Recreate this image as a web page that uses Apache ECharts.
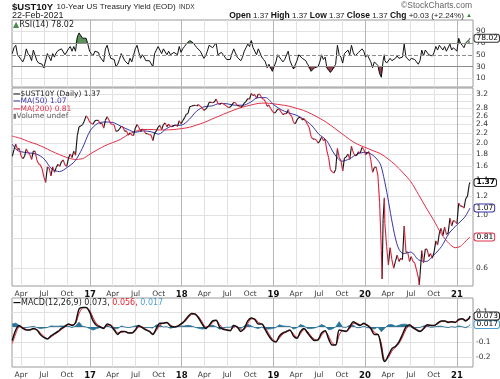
<!DOCTYPE html>
<html><head><meta charset="utf-8">
<script src="https://cdn.jsdelivr.net/npm/echarts@6/dist/echarts.min.js"></script>
<style>html,body{margin:0;padding:0;background:#fff}#c{width:500px;height:379px}</style>
</head><body><div id="c"></div>
<script>
// ---------- DATA ----------
const weekDates = [
'2016-02-26','2016-03-04','2016-03-11','2016-03-18','2016-03-25','2016-04-01','2016-04-08','2016-04-15','2016-04-22','2016-04-29',
'2016-05-06','2016-05-13','2016-05-20','2016-05-27','2016-06-03','2016-06-10','2016-06-17','2016-06-24','2016-07-01','2016-07-08',
'2016-07-15','2016-07-22','2016-07-29','2016-08-05','2016-08-12','2016-08-19','2016-08-26','2016-09-02','2016-09-09','2016-09-16',
'2016-09-23','2016-09-30','2016-10-07','2016-10-14','2016-10-21','2016-10-28','2016-11-04','2016-11-11','2016-11-18','2016-11-25',
'2016-12-02','2016-12-09','2016-12-16','2016-12-23','2016-12-30',
'2017-01-06','2017-01-13','2017-01-20','2017-01-27','2017-02-03','2017-02-10','2017-02-17','2017-02-24','2017-03-03','2017-03-10',
'2017-03-17','2017-03-24','2017-03-31','2017-04-07','2017-04-14','2017-04-21','2017-04-28','2017-05-05','2017-05-12','2017-05-19',
'2017-05-26','2017-06-02','2017-06-09','2017-06-16','2017-06-23','2017-06-30','2017-07-07','2017-07-14','2017-07-21','2017-07-28',
'2017-08-04','2017-08-11','2017-08-18','2017-08-25','2017-09-01','2017-09-08','2017-09-15','2017-09-22','2017-09-29','2017-10-06',
'2017-10-13','2017-10-20','2017-10-27','2017-11-03','2017-11-10','2017-11-17','2017-11-24','2017-12-01','2017-12-08','2017-12-15',
'2017-12-22','2017-12-29',
'2018-01-05','2018-01-12','2018-01-19','2018-01-26','2018-02-02','2018-02-09','2018-02-16','2018-02-23','2018-03-02','2018-03-09',
'2018-03-16','2018-03-23','2018-03-30','2018-04-06','2018-04-13','2018-04-20','2018-04-27','2018-05-04','2018-05-11','2018-05-18',
'2018-05-25','2018-06-01','2018-06-08','2018-06-15','2018-06-22','2018-06-29','2018-07-06','2018-07-13','2018-07-20','2018-07-27',
'2018-08-03','2018-08-10','2018-08-17','2018-08-24','2018-08-31','2018-09-07','2018-09-14','2018-09-21','2018-09-28','2018-10-05',
'2018-10-12','2018-10-19','2018-10-26','2018-11-02','2018-11-09','2018-11-16','2018-11-23','2018-11-30','2018-12-07','2018-12-14',
'2018-12-21','2018-12-28',
'2019-01-04','2019-01-11','2019-01-18','2019-01-25','2019-02-01','2019-02-08','2019-02-15','2019-02-22','2019-03-01','2019-03-08',
'2019-03-15','2019-03-22','2019-03-29','2019-04-05','2019-04-12','2019-04-19','2019-04-26','2019-05-03','2019-05-10','2019-05-17',
'2019-05-24','2019-05-31','2019-06-07','2019-06-14','2019-06-21','2019-06-28','2019-07-05','2019-07-12','2019-07-19','2019-07-26',
'2019-08-02','2019-08-09','2019-08-16','2019-08-23','2019-08-30','2019-09-06','2019-09-13','2019-09-20','2019-09-27','2019-10-04',
'2019-10-11','2019-10-18','2019-10-25','2019-11-01','2019-11-08','2019-11-15','2019-11-22','2019-11-29','2019-12-06','2019-12-13',
'2019-12-20','2019-12-27',
'2020-01-03','2020-01-10','2020-01-17','2020-01-24','2020-01-31','2020-02-07','2020-02-14','2020-02-21','2020-02-28','2020-03-06',
'2020-03-09','2020-03-13','2020-03-18','2020-03-20','2020-03-27','2020-04-03','2020-04-10','2020-04-17','2020-04-24','2020-05-01',
'2020-05-08','2020-05-15','2020-05-22','2020-05-29','2020-06-05','2020-06-12','2020-06-19','2020-06-26','2020-07-03','2020-07-10',
'2020-07-17','2020-07-24','2020-07-31','2020-08-04','2020-08-07','2020-08-14','2020-08-21','2020-08-28','2020-09-04','2020-09-11',
'2020-09-18','2020-09-25','2020-10-02','2020-10-09','2020-10-16','2020-10-23','2020-10-30','2020-11-06','2020-11-13','2020-11-20',
'2020-11-27','2020-12-04','2020-12-11','2020-12-18','2020-12-25',
'2021-01-01','2021-01-08','2021-01-15','2021-01-22','2021-01-29','2021-02-05','2021-02-12','2021-02-19','2021-02-22'
];
const closeValues = [
1.76,1.88,1.98,1.88,1.90,1.77,1.72,1.76,1.89,1.83, 1.79,1.71,1.85,1.85,1.70,1.64,1.62,1.56,1.44,1.37,
1.59,1.57,1.46,1.59,1.51,1.58,1.63,1.60,1.67,1.70, 1.62,1.60,1.73,1.80,1.74,1.85,1.78,2.15,2.34,2.36,
2.39,2.47,2.60,2.55,2.45,
2.42,2.40,2.48,2.49,2.49,2.41,2.42,2.31,2.49,2.58, 2.50,2.41,2.40,2.38,2.24,2.25,2.29,2.35,2.33,2.24,
2.25,2.16,2.21,2.16,2.15,2.31,2.39,2.33,2.24,2.29, 2.26,2.19,2.19,2.17,2.16,2.05,2.20,2.25,2.33,2.37,
2.28,2.39,2.43,2.34,2.40,2.35,2.34,2.37,2.38,2.35, 2.48,2.41,
2.48,2.55,2.64,2.66,2.84,2.85,2.87,2.88,2.86,2.90, 2.85,2.82,2.74,2.77,2.83,2.96,2.96,2.95,2.97,3.06,
2.93,2.90,2.94,2.92,2.89,2.85,2.82,2.83,2.89,2.96, 2.95,2.87,2.87,2.82,2.86,2.94,2.99,3.07,3.05,3.23,
3.16,3.19,3.08,3.21,3.19,3.08,3.05,2.99,2.85,2.89, 2.79,2.72,
2.67,2.70,2.78,2.76,2.70,2.63,2.66,2.65,2.76,2.63, 2.59,2.44,2.41,2.50,2.56,2.56,2.50,2.53,2.47,2.39,
2.32,2.13,2.08,2.08,2.06,2.00,2.04,2.12,2.05,2.07, 1.86,1.74,1.55,1.52,1.50,1.55,1.90,1.74,1.69,1.53,
1.73,1.75,1.80,1.71,1.94,1.83,1.77,1.78,1.84,1.82, 1.92,1.88,
1.79,1.82,1.84,1.70,1.51,1.58,1.59,1.47,1.13,0.71, 0.54,0.96,1.18,0.92,0.74,0.62,0.73,0.65,0.60,0.64,
0.68,0.64,0.66,0.65,0.90,0.70,0.70,0.64,0.67,0.64, 0.63,0.59,0.55,0.51,0.56,0.71,0.63,0.72,0.72,0.67,
0.69,0.66,0.70,0.78,0.75,0.84,0.88,0.82,0.89,0.83, 0.84,0.97,0.90,0.95,0.94,
0.92,1.12,1.09,1.09,1.07,1.17,1.20,1.34,1.37
];
const rsiValues = [
52,62,66,50,52,42,38,45,60,52, 48,40,58,56,40,36,36,34,28,26, 52,50,40,52,46,53,57,54,60,60,
50,48,60,64,56,64,56,80,87,84, 78,76,78,68,56,
52,48,56,56,54,46,48,38,60,66, 54,44,44,42,30,34,42,52,50,40, 42,34,44,38,38,60,66,54,44,50,
46,40,42,40,40,30,52,58,64,64, 52,60,62,50,56,50,50,54,54,50, 64,54,
60,64,68,68,74,72,70,66,62,62, 56,54,44,48,56,66,64,62,64,70, 50,48,54,50,46,42,40,42,52,60,
58,46,46,40,46,56,62,68,64,74, 62,62,50,60,58,46,42,38,28,34, 28,22,
30,38,50,48,42,38,42,42,56,40, 38,26,26,40,50,50,44,46,40,34, 30,22,24,28,30,30,38,50,42,46,
28,24,20,24,26,34,66,50,46,36, 52,54,58,50,66,54,48,50,54,52, 60,56,
46,50,52,38,28,38,40,32,18,12, 9,40,50,40,36,34,44,40,38,44, 48,44,46,46,68,46,46,40,44,42,
42,38,34,32,40,58,48,58,56,50, 52,48,54,64,58,66,68,58,64,56, 56,68,58,62,60,
56,78,70,66,62,70,70,76,78.02
];
const ma50Dates = [
'2016-02-26','2016-03-15','2016-04-01','2016-05-01','2016-06-01','2016-07-01','2016-08-01','2016-09-01','2016-10-01','2016-11-01',
'2016-12-01','2017-01-01','2017-02-01','2017-03-01','2017-04-01','2017-05-01','2017-06-01','2017-07-01','2017-08-01','2017-09-01',
'2017-10-01','2017-11-01','2017-12-01','2018-01-01','2018-02-01','2018-03-01','2018-04-01','2018-05-01','2018-06-01','2018-07-01',
'2018-08-01','2018-09-01','2018-10-01','2018-11-01','2018-12-01','2019-01-01','2019-02-01','2019-03-01','2019-04-01','2019-05-01',
'2019-06-01','2019-07-01','2019-08-01','2019-09-01','2019-10-01','2019-11-01','2019-12-01','2020-01-01','2020-02-01','2020-03-01',
'2020-03-15','2020-04-01','2020-04-15','2020-05-01','2020-05-15','2020-06-01','2020-07-01','2020-08-01','2020-09-01','2020-10-01',
'2020-11-01','2020-12-01','2021-01-01','2021-02-01','2021-02-22'
];
const ma50Values = [
1.98,1.87,1.84,1.82,1.80,1.72,1.56,1.52,1.58,1.68,
1.90,2.25,2.42,2.45,2.44,2.36,2.28,2.22,2.25,2.23,
2.18,2.30,2.37,2.38,2.52,2.72,2.84,2.86,2.93,2.92,
2.88,2.88,2.96,3.10,3.10,2.90,2.76,2.68,2.62,2.52,
2.38,2.18,2.05,1.80,1.68,1.72,1.80,1.83,1.78,1.64,
1.45,1.18,0.97,0.80,0.72,0.69,0.70,0.65,0.64,0.68,
0.74,0.84,0.91,0.98,1.07
];
const ma200Dates = [
'2016-02-26','2016-04-01','2016-05-01','2016-06-01','2016-07-01','2016-08-01','2016-09-01','2016-10-01','2016-11-01','2016-12-01',
'2017-01-01','2017-02-01','2017-03-01','2017-04-01','2017-05-01','2017-06-01','2017-07-01','2017-08-01','2017-09-01','2017-10-01',
'2017-11-01','2017-12-01','2018-01-01','2018-02-01','2018-03-01','2018-04-01','2018-05-01','2018-06-01','2018-07-01','2018-08-01',
'2018-09-01','2018-10-01','2018-11-01','2018-12-01','2019-01-01','2019-02-01','2019-03-01','2019-04-01','2019-05-01','2019-06-01',
'2019-07-01','2019-08-01','2019-09-01','2019-10-01','2019-11-01','2019-12-01','2020-01-01','2020-02-01','2020-03-01','2020-04-01',
'2020-05-01','2020-06-01','2020-07-01','2020-08-01','2020-09-01','2020-10-01','2020-11-01','2020-12-01','2020-12-25','2021-01-15',
'2021-02-01','2021-02-22'
];
const ma200Values = [
2.14,2.09,2.03,1.98,1.92,1.85,1.79,1.74,1.71,1.72,
1.80,1.88,1.95,2.01,2.07,2.17,2.24,2.28,2.28,2.27,
2.27,2.28,2.30,2.33,2.38,2.44,2.52,2.60,2.68,2.76,
2.83,2.88,2.93,2.94,2.92,2.89,2.86,2.80,2.74,2.65,
2.55,2.44,2.31,2.19,2.07,1.98,1.92,1.86,1.81,1.72,
1.62,1.50,1.38,1.22,1.07,0.95,0.83,0.76,0.73,0.74,
0.77,0.81
];
const macdDates = [
'2016-02-26','2016-03-11','2016-03-25','2016-04-08','2016-04-22','2016-05-06','2016-05-20','2016-06-03','2016-06-17','2016-07-01',
'2016-07-15','2016-07-29','2016-08-12','2016-08-26','2016-09-09','2016-09-23','2016-10-07','2016-10-21','2016-11-04','2016-11-18',
'2016-12-02','2016-12-16','2016-12-30','2017-01-13','2017-01-27','2017-02-10','2017-02-24','2017-03-10','2017-03-24','2017-04-07',
'2017-04-21','2017-05-05','2017-05-19','2017-06-02','2017-06-16','2017-06-30','2017-07-14','2017-07-28','2017-08-11','2017-08-25',
'2017-09-08','2017-09-22','2017-10-06','2017-10-20','2017-11-03','2017-11-17','2017-12-01','2017-12-15','2017-12-29','2018-01-12',
'2018-01-26','2018-02-09','2018-02-23','2018-03-09','2018-03-23','2018-04-06','2018-04-20','2018-05-04','2018-05-18','2018-06-01',
'2018-06-15','2018-06-29','2018-07-13','2018-07-27','2018-08-10','2018-08-24','2018-09-07','2018-09-21','2018-10-05','2018-10-19',
'2018-11-02','2018-11-16','2018-11-30','2018-12-14','2018-12-28','2019-01-11','2019-01-25','2019-02-08','2019-02-22','2019-03-08',
'2019-03-22','2019-04-05','2019-04-19','2019-05-03','2019-05-17','2019-05-31','2019-06-14','2019-06-28','2019-07-12','2019-07-26',
'2019-08-09','2019-08-23','2019-09-06','2019-09-20','2019-10-04','2019-10-18','2019-11-01','2019-11-15','2019-11-29','2019-12-13',
'2019-12-27','2020-01-10','2020-01-24','2020-02-07','2020-02-21','2020-03-06','2020-03-13','2020-03-20','2020-04-03','2020-04-17',
'2020-05-01','2020-05-15','2020-05-29','2020-06-12','2020-06-26','2020-07-10','2020-07-24','2020-08-07','2020-08-21','2020-09-04',
'2020-09-18','2020-10-02','2020-10-16','2020-10-30','2020-11-13','2020-11-27','2020-12-11','2020-12-25','2021-01-08','2021-01-22',
'2021-02-05','2021-02-19','2021-02-22'
];
const macdValues = [
-0.09,-0.02,0.01,-0.01,-0.02,-0.02,-0.01,-0.02,-0.05,-0.07,
-0.08,-0.06,-0.045,-0.03,-0.01,0.005,0.02,0.01,0.03,0.12,
0.13,0.13,0.10,0.04,0.01,0.0,-0.01,0.02,0.01,-0.02,
-0.05,-0.03,-0.03,-0.04,-0.04,-0.02,0.01,-0.005,-0.02,-0.03,
-0.05,-0.01,0.025,0.025,0.03,0.005,0.0,0.005,0.02,0.04,
0.07,0.09,0.085,0.06,0.02,-0.01,0.01,0.04,0.045,0.0,
-0.015,-0.02,-0.025,0.01,0.0,-0.03,-0.01,0.04,0.06,0.05,
0.02,0.02,-0.02,-0.06,-0.09,-0.10,-0.06,-0.04,-0.03,-0.02,
-0.06,-0.075,-0.03,-0.01,-0.04,-0.07,-0.09,-0.085,-0.04,-0.025,
-0.08,-0.12,-0.12,-0.02,-0.025,-0.03,0.0,0.035,0.02,0.01,
0.025,0.01,-0.01,-0.05,-0.05,-0.14,-0.21,-0.23,-0.19,-0.145,
-0.13,-0.10,-0.05,0.0,0.015,-0.005,-0.02,-0.03,-0.01,0.015,
0.01,0.01,0.025,0.04,0.04,0.03,0.035,0.03,0.05,0.055,
0.04,0.06,0.073
];
const signalValues = [
-0.11,-0.045,0.0,-0.003,-0.017,-0.02,-0.014,-0.017,-0.040,-0.063,
-0.077,-0.067,-0.050,-0.035,-0.017,0.0,0.015,0.014,0.023,0.089,
0.127,0.13,0.111,0.061,0.021,0.004,-0.007,0.010,0.014,-0.010,
-0.040,-0.037,-0.03,-0.037,-0.04,-0.027,0.0,0.0,-0.015,-0.027,
-0.043,-0.024,0.013,0.025,0.028,0.014,0.002,0.003,0.015,0.033,
0.060,0.083,0.087,0.069,0.034,0.001,0.003,0.030,0.043,0.016,
-0.010,-0.018,-0.023,-0.002,0.004,-0.020,-0.017,0.023,0.053,0.054,
0.031,0.02,-0.006,-0.046,-0.080,-0.097,-0.074,-0.047,-0.034,-0.024,
-0.046,-0.070,-0.046,-0.017,-0.030,-0.060,-0.083,-0.087,-0.056,-0.030,
-0.061,-0.106,-0.12,-0.055,-0.023,-0.028,-0.011,0.023,0.025,0.014,
0.020,0.015,-0.003,-0.036,-0.05,-0.109,-0.186,-0.223,-0.204,-0.161,
-0.135,-0.111,-0.068,-0.018,0.010,0.002,-0.015,-0.027,-0.017,0.006,
0.012,0.01,0.020,0.035,0.04,0.034,0.033,0.032,0.043,0.053,
0.045,0.053,0.056
];
const histValues = [
0.02,0.025,0.01,-0.007,-0.004,0.0,0.004,-0.004,-0.011,-0.007,
-0.004,0.007,0.005,0.005,0.007,0.005,0.005,-0.004,0.007,0.032,
0.004,0.0,-0.011,-0.021,-0.011,-0.004,-0.004,0.011,-0.004,-0.011,
-0.011,0.007,0.0,-0.004,0.0,0.007,0.011,-0.005,-0.005,-0.004,
-0.007,0.014,0.012,0.0,0.002,-0.009,-0.002,0.002,0.005,0.007,
0.011,0.007,-0.002,-0.009,-0.014,-0.011,0.007,0.011,0.002,-0.016,
-0.005,-0.002,-0.002,0.012,-0.004,-0.011,0.007,0.018,0.007,-0.004,
-0.011,0.0,-0.014,-0.014,-0.011,-0.004,0.014,0.007,0.004,0.004,
-0.014,-0.005,0.016,0.007,-0.011,-0.011,-0.007,0.002,0.016,0.005,
-0.019,-0.014,0.0,0.035,-0.002,-0.002,0.011,0.012,-0.005,-0.004,
0.005,-0.005,-0.007,-0.014,0.0,-0.032,-0.025,-0.007,0.014,0.016,
0.005,0.011,0.018,0.018,0.005,-0.007,-0.005,-0.004,0.007,0.009,
-0.002,0.0,0.005,0.005,0.0,-0.004,0.002,-0.002,0.007,0.002,
-0.005,0.007,0.017
];
const quarterTicks = [
'2016-04-01','2016-07-01','2016-10-01','2017-01-01','2017-04-01','2017-07-01','2017-10-01','2018-01-01',
'2018-04-01','2018-07-01','2018-10-01','2019-01-01','2019-04-01','2019-07-01','2019-10-01','2020-01-01',
'2020-04-01','2020-07-01','2020-10-01','2021-01-01'
];
const priceTicks = [0.6,0.8,1.0,1.2,1.4,1.6,1.8,2.0,2.2,2.4,2.6,2.8,3.0,3.2];
const rsiTicks = [10,30,50,70,90];
const macdTicks = [-0.2,-0.1,0.0,0.1];
const monthNames = ['','','','Apr','','','Jul','','','Oct','',''];

// ---------- BUILD ----------
const ts = s => Date.parse(s);
const X_MIN = ts('2016-02-25'), X_MAX = ts('2021-03-06');
const qTicks = quarterTicks.map(ts);
const FONT = 'DejaVu Sans';
const pair = (dates, vals) => dates.map((d, i) => [ts(d), vals[i]]);

const rsiData = pair(weekDates, rsiValues);
const rsiHigh = weekDates.map((d, i) => [ts(d), Math.max(rsiValues[i], 70)]);
const rsiLow = weekDates.map((d, i) => [ts(d), Math.min(rsiValues[i], 30)]);
const segUp = [], segDown = [];
for (let i = 1; i < weekDates.length; i++) {
  const s = [ts(weekDates[i]), closeValues[i], ts(weekDates[i - 1]), closeValues[i - 1]];
  (closeValues[i] < closeValues[i - 1] ? segDown : segUp).push(s);
}

function xAxis(idx, showLabel) {
  return {
    type: 'value', gridIndex: idx, min: X_MIN, max: X_MAX,
    axisLine: { show: false },
    axisTick: { show: false, customValues: qTicks },
    axisLabel: {
      show: showLabel, customValues: qTicks, margin: 4, fontSize: 7.5, fontFamily: FONT, color: '#333', hideOverlap: false,
      showMinLabel: true, showMaxLabel: true,
      formatter: v => { const d = new Date(v); const m = d.getUTCMonth();
        return m === 0 ? '{y|' + String(d.getUTCFullYear()).slice(2) + '}' : monthNames[m]; },
      rich: { y: { fontWeight: 'bold', fontSize: 8.5, fontFamily: FONT, color: '#111' } }
    },
    splitLine: { show: true, lineStyle: { color: ['#e2e2e2', '#e2e2e2', '#e2e2e2', '#b5b5b5'], width: 1 } }
  };
}
function yBase(idx) {
  return {
    gridIndex: idx, position: 'right',
    axisLine: { show: false },
    axisLabel: { margin: 3, fontSize: 7.5, fontFamily: FONT, color: '#333', hideOverlap: false, lineHeight: 8,
      showMinLabel: true, showMaxLabel: true },
    splitLine: { show: true, lineStyle: { color: '#e2e2e2', width: 1 } }
  };
}
function tag(x, y, text, border, bold) {
  return {
    coord: [x, y], value: text,
    label: { show: true, position: 'right', distance: 1, formatter: text, fontSize: 7.5, fontFamily: FONT, lineHeight: 7,
      fontWeight: bold ? 'bold' : 'normal',
      color: '#000', backgroundColor: '#fff', borderColor: border, borderWidth: 1, borderRadius: 2,
      padding: [0, 1, 0, 2] }
  };
}
function segSeries(data, color, z) {
  return { type: 'custom', xAxisIndex: 1, yAxisIndex: 1, data: data, silent: true, clip: true, z: z,
    encode: { x: [0, 2], y: [1, 3] },
    renderItem: (params, api) => {
      const p1 = api.coord([api.value(2), api.value(3)]);
      const p2 = api.coord([api.value(0), api.value(1)]);
      return { type: 'line', shape: { x1: p1[0], y1: p1[1], x2: p2[0], y2: p2[1] },
        style: { stroke: color, lineWidth: 1.1 } };
    } };
}
const gridBase = { left: 12, right: 27, show: true, borderColor: '#9a9a9a', borderWidth: 1, backgroundColor: '#fff',
  containLabel: false, outerBoundsMode: 'none' };

const option = {
  animation: false,
  backgroundColor: '#fff',
  grid: [
    Object.assign({ top: 20, height: 67 }, gridBase),
    Object.assign({ top: 88, height: 198 }, gridBase),
    Object.assign({ top: 298, height: 69 }, gridBase)
  ],
  xAxis: [xAxis(0, false), xAxis(1, true), xAxis(2, true)],
  yAxis: [
    Object.assign(yBase(0), { type: 'value', min: -4.5, max: 108.8,
      axisTick: { show: false, customValues: [10, 90] },
      axisLabel: Object.assign(yBase(0).axisLabel, { customValues: rsiTicks }) }),
    Object.assign(yBase(1), { type: 'log', logBase: 10, min: 0.505, max: 3.40,
      axisTick: { show: false, customValues: priceTicks },
      axisLabel: Object.assign(yBase(1).axisLabel, { customValues: priceTicks, formatter: v => (+v).toFixed(1) }) }),
    Object.assign(yBase(2), { type: 'value', min: -0.267, max: 0.193,
      axisTick: { show: false, customValues: macdTicks },
      axisLabel: Object.assign(yBase(2).axisLabel, { customValues: macdTicks, formatter: v => (+v).toFixed(1) }) })
  ],
  series: [
    { type: 'line', xAxisIndex: 0, yAxisIndex: 0, data: rsiHigh, symbol: 'none', silent: true,
      lineStyle: { width: 0 }, areaStyle: { origin: 70, color: '#5b935b', opacity: 1 } },
    { type: 'line', xAxisIndex: 0, yAxisIndex: 0, data: rsiLow, symbol: 'none', silent: true,
      lineStyle: { width: 0 }, areaStyle: { origin: 30, color: '#93404f', opacity: 1 } },
    { type: 'line', xAxisIndex: 0, yAxisIndex: 0, data: rsiData, symbol: 'none', silent: true, z: 4,
      lineStyle: { color: '#111', width: 1 },
      markLine: { silent: true, symbol: 'none', label: { show: false },
        data: [
          { yAxis: 70, lineStyle: { color: '#8c8c8c', type: 'solid', width: 1 } },
          { yAxis: 30, lineStyle: { color: '#8c8c8c', type: 'solid', width: 1 } },
          { yAxis: 50, lineStyle: { color: '#8c8c8c', type: [4, 2], width: 1 } }
        ] },
      markPoint: { silent: true, symbol: 'rect', symbolSize: 1, itemStyle: { color: 'rgba(0,0,0,0)' },
        data: [tag(X_MAX, 78.02, '78.02', '#333')] } },

    { type: 'line', xAxisIndex: 1, yAxisIndex: 1, data: pair(ma200Dates, ma200Values), symbol: 'none', silent: true,
      smooth: 0.3, lineStyle: { color: '#e0304a', width: 1 }, z: 2 },
    { type: 'line', xAxisIndex: 1, yAxisIndex: 1, data: pair(ma50Dates, ma50Values), symbol: 'none', silent: true,
      smooth: 0.3, lineStyle: { color: '#3535a8', width: 1 }, z: 2,
      markPoint: { silent: true, symbol: 'rect', symbolSize: 1, itemStyle: { color: 'rgba(0,0,0,0)' },
        data: [tag(X_MAX, 0.81, '0.81', '#e0304a'), tag(X_MAX, 1.07, '1.07', '#3535a8'), tag(X_MAX, 1.37, '1.37', '#222', true)] } },
    segSeries(segUp, '#111', 3),
    segSeries(segDown, '#dc1f3c', 3.5),

    { type: 'line', xAxisIndex: 2, yAxisIndex: 2, data: pair(macdDates, histValues), symbol: 'none', silent: true,
      lineStyle: { color: '#2a7399', width: 0.8 }, areaStyle: { color: '#2a7399', opacity: 1 } },
    { type: 'line', xAxisIndex: 2, yAxisIndex: 2, data: pair(macdDates, signalValues), symbol: 'none', silent: true,
      smooth: 0.3, lineStyle: { color: '#e8202e', width: 1 } },
    { type: 'line', xAxisIndex: 2, yAxisIndex: 2, data: pair(macdDates, macdValues), symbol: 'none', silent: true,
      smooth: 0.3, lineStyle: { color: '#111', width: 1.5 }, z: 4,
      markPoint: { silent: true, symbol: 'rect', symbolSize: 1, itemStyle: { color: 'rgba(0,0,0,0)' },
        data: [tag(X_MAX, 0.017, '0.017', '#4a9fd4'), tag(X_MAX, 0.073, '0.073', '#222')] } }
  ],
  graphic: [
    { type: 'text', left: 12, top: 1, style: {
      text: '{a|$UST10Y} {b|10-Year US Treasury Yield (EOD)} {c|INDX}',
      rich: { a: { fontFamily: 'Liberation Sans', fontWeight: 'bold', fontSize: 9.5, fill: '#111' },
              b: { fontFamily: 'Liberation Sans', fontSize: 8, fill: '#222' },
              c: { fontFamily: 'Liberation Sans', fontSize: 6.5, fill: '#333' } } } },
    { type: 'text', left: 12, top: 11, style: { text: '22-Feb-2021', fontFamily: 'Liberation Sans', fontSize: 9, fill: '#222' } },
    { type: 'text', right: 28, top: 1, style: { text: '©StockCharts.com', fontFamily: 'Liberation Sans', fontSize: 8.5, fill: '#666' } },
    { type: 'text', right: 28, top: 11, style: {
      text: '{l|Open} 1.37 {l|High} 1.37 {l|Low} 1.37 {l|Close} 1.37 {l|Chg} +0.03 (+2.24%) {g|▲}',
      fontFamily: 'Liberation Sans', fontSize: 8, fill: '#222',
      rich: { l: { fontFamily: 'Liberation Sans', fontWeight: 'bold', fontSize: 8.5, fill: '#111' },
              g: { fontSize: 6, fill: '#2e8b2e' } } } },
    { type: 'text', left: 13, top: 21, z: 50, style: {
      text: '{g|▲}{t|RSI(14) 78.02}',
      rich: { g: { fontSize: 8, fill: '#4d8a4d', fontFamily: FONT }, t: { fontSize: 8, fill: '#222', fontFamily: FONT } } } },
    { type: 'text', left: 13, top: 90, z: 50, style: { text: '{k|—}{t|$UST10Y (Daily) 1.37}',
      rich: { k: { fontSize: 7.5, fontWeight: 'bold', fill: '#000', fontFamily: FONT }, t: { fontSize: 7.5, fill: '#222', fontFamily: FONT } } } },
    { type: 'text', left: 13, top: 97.5, z: 50, style: { text: '{k|—}{t|MA(50) 1.07}',
      rich: { k: { fontSize: 7.5, fontWeight: 'bold', fill: '#3535a8', fontFamily: FONT }, t: { fontSize: 7.5, fill: '#3535a8', fontFamily: FONT } } } },
    { type: 'text', left: 13, top: 105, z: 50, style: { text: '{k|—}{t|MA(200) 0.81}',
      rich: { k: { fontSize: 7.5, fontWeight: 'bold', fill: '#e0304a', fontFamily: FONT }, t: { fontSize: 7.5, fill: '#e0304a', fontFamily: FONT } } } },
    { type: 'text', left: 13, top: 112.5, z: 50, style: { text: '{k|▮}{t|Volume undef}',
      rich: { k: { fontSize: 6.5, fill: '#777', fontFamily: FONT }, t: { fontSize: 7.5, fill: '#666', fontFamily: FONT } } } },
    { type: 'text', left: 13, top: 299, z: 50, style: { text: '{k|—}{t|MACD(12,26,9) 0.073, }{r|0.056, }{b|0.017}',
      rich: { k: { fontSize: 8, fontWeight: 'bold', fill: '#000', fontFamily: FONT }, t: { fontSize: 8, fill: '#222', fontFamily: FONT },
              r: { fontSize: 8, fill: '#e8202e', fontFamily: FONT }, b: { fontSize: 8, fill: '#4a9fd4', fontFamily: FONT } } } }
  ]
};
const chart = echarts.init(document.getElementById('c'));
chart.setOption(option);
</script></body></html>
